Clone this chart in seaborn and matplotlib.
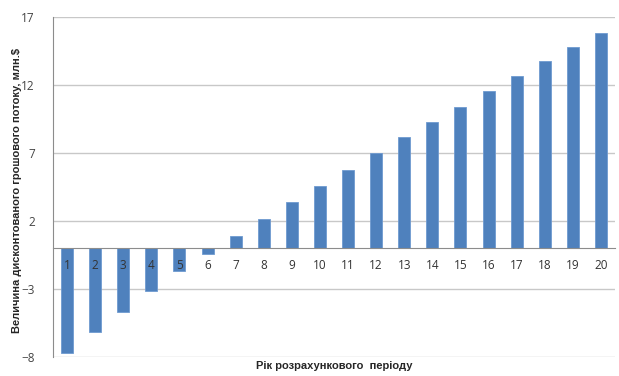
import matplotlib
matplotlib.use('Agg')
import matplotlib.pyplot as plt
import seaborn as sns
import numpy as np

years = [str(i) for i in range(1, 21)]
dcf = [-7.74, -6.19, -4.72, -3.15, -1.68, -0.40, 0.90, 2.15, 3.40, 4.58,
       5.78, 6.99, 8.14, 9.29, 10.40, 11.55, 12.66, 13.74, 14.78, 15.81]
y_ticks = [-8, -3, 2, 7, 12, 17]

sns.set_style('white')
plt.rcParams['font.family'] = ['Open Sans', 'DejaVu Sans']

fig = plt.figure(figsize=(6.19, 3.76), dpi=100)
ax = fig.add_axes([53 / 619, 1 - 357 / 376, 562 / 619, 340 / 376])

sns.barplot(x=years, y=dcf, color='#4F81BD', saturation=1, width=0.43,
            edgecolor='#6f9ad0', linewidth=0.6, ax=ax, zorder=2)

ax.set_xlim(-0.5, 19.5)
ax.set_ylim(-8, 17)
ax.set_yticks(y_ticks)
ax.yaxis.grid(True, color='#c8c8c8', linewidth=1)
ax.set_axisbelow(True)
ax.xaxis.set_zorder(3)

for s in ['top', 'right']:
    ax.spines[s].set_visible(False)
ax.spines['left'].set_color('#8c8c8c')
ax.spines['bottom'].set_color('#8c8c8c')
ax.spines['bottom'].set_position(('data', 0))

ax.set_xticks(np.arange(-0.5, 20, 1), minor=True)
ax.tick_params(axis='x', which='major', length=0, pad=8, labelsize=8.5, colors='#333333')
ax.tick_params(axis='x', which='minor', length=4, width=0.8, color='#8c8c8c', direction='out')
ax.tick_params(axis='y', length=4, width=0.8, color='#8c8c8c', pad=9, labelsize=8.5, labelcolor='#444444')

ax.set_ylabel('Величина дисконтованого грошового потоку, млн.$',
              fontsize=8, fontweight='bold', family=['Liberation Sans', 'DejaVu Sans'])
ax.yaxis.set_label_coords(-31 / 562, 0.49)
ax.set_xlabel('Рік розрахункового  періоду', fontsize=8, fontweight='bold',
              family=['Liberation Sans', 'DejaVu Sans'])
ax.xaxis.set_label_coords(0.5, -0.012)

fig.savefig('out.png', dpi=100)
